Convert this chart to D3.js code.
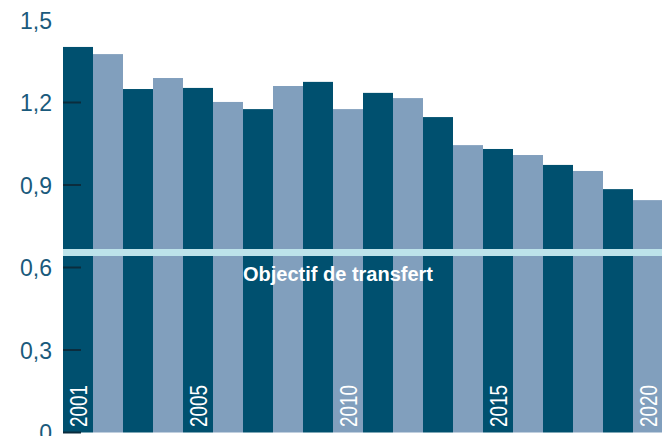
<!DOCTYPE html>
<html><head><meta charset="utf-8">
<script src="https://cdn.jsdelivr.net/npm/d3@7"></script>
<style>body{margin:0;background:#fff}svg{display:block}</style>
</head><body>
<svg id="c" width="662" height="436"></svg>
<script>
const years = ["2001","2002","2003","2004","2005","2006","2007","2008","2009","2010","2011","2012","2013","2014","2015","2016","2017","2018","2019","2020"];
const values = [1.402,1.376,1.249,1.289,1.253,1.202,1.176,1.26,1.275,1.176,1.235,1.216,1.147,1.045,1.031,1.009,0.973,0.951,0.885,0.845];
const yTicks = [0,0.3,0.6,0.9,1.2,1.5];
const tickMarks = [0,0.3,0.6,0.9,1.2];
const labeledYears = ["2001","2005","2010","2015","2020"];
const targetValue = 0.655;
const targetLabel = "Objectif de transfert";

const svg = d3.select("#c");
const x = d3.scaleBand().domain(years).range([63,663]).padding(0);
const y = d3.scaleLinear().domain([0,1.5]).range([432.5,20]);
const loc = d3.formatLocale({decimal:",",thousands:" ",grouping:[3],currency:["","€"]});
const f1 = loc.format(".1f");

svg.append("g").selectAll("rect").data(years).join("rect")
  .attr("x", d=>x(d)).attr("width", x.bandwidth())
  .attr("y", (d,i)=>y(values[i])).attr("height", (d,i)=>y(0)-y(values[i]))
  .attr("fill", (d,i)=> i%2===0 ? "#00506f" : "#819fbd");

// y axis
const ax = d3.axisLeft(y).tickValues(yTicks).tickSize(0).tickPadding(0)
  .tickFormat(d=> d===0 ? "0" : f1(d));
const g = svg.append("g").attr("transform","translate(52,0)").call(ax);
g.select(".domain").remove();
g.selectAll("text").attr("font-family","Liberation Sans, Arial, sans-serif")
  .attr("font-size",23).attr("fill","#1a5a7c").attr("x",0).attr("dy","0.36em");
svg.append("g").selectAll("line").data(tickMarks).join("line")
  .attr("x1",63).attr("x2",81).attr("y1",d=>y(d)).attr("y2",d=>y(d))
  .attr("stroke","#0b2c3d").attr("stroke-width",2);

// target line
svg.append("line").attr("x1",63).attr("x2",662)
  .attr("y1",y(targetValue)).attr("y2",y(targetValue))
  .attr("stroke","#bde3ea").attr("stroke-width",7);
svg.append("text").attr("x",243).attr("y",y(targetValue)+29)
  .attr("font-family","Liberation Sans, Arial, sans-serif").attr("font-weight","bold")
  .attr("font-size",20).attr("fill","#fff")
  .attr("textLength",190).attr("lengthAdjust","spacingAndGlyphs")
  .text(targetLabel);

// year labels
svg.append("g").selectAll("text").data(labeledYears).join("text")
  .attr("transform", d=>`translate(${x(d)+x.bandwidth()/2+9},427) rotate(-90)`)
  .attr("font-family","Liberation Sans, Arial, sans-serif")
  .attr("font-size",24).attr("fill","#fff")
  .attr("textLength",42).attr("lengthAdjust","spacingAndGlyphs")
  .text(d=>d);
</script>
</body></html>
